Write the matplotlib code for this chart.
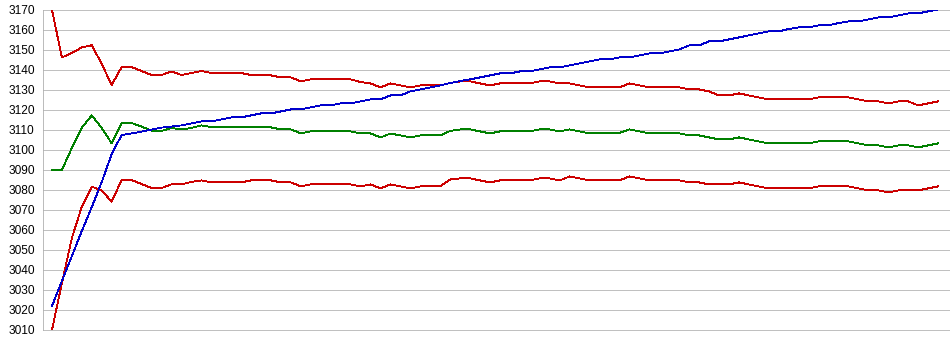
import numpy as np
import matplotlib
matplotlib.use("Agg")
import matplotlib.pyplot as plt

# ---- data ----
upper_red = [3170, 3146.3, 3148.5, 3151.3, 3152.4, 3143.0, 3132.5, 3141.5, 3141.5, 3139.5,
             3137.5, 3137.5, 3139.3, 3137.5, 3138.5, 3139.5, 3138.5, 3138.5, 3138.5, 3138.5,
             3137.5, 3137.3, 3137.3, 3136.3, 3136.3, 3134.3, 3135.3, 3135.3, 3135.3, 3135.3,
             3135.3, 3134.0, 3133.3, 3131.3, 3133.3, 3132.3, 3131.3, 3132.3, 3132.3, 3132.3,
             3133.5, 3134.3, 3134.3, 3133.3, 3132.3, 3133.3, 3133.3, 3133.3, 3133.3, 3134.3,
             3134.3, 3133.3, 3133.3, 3132.3, 3131.3, 3131.3, 3131.3, 3131.3, 3133.3, 3132.3,
             3131.3, 3131.3, 3131.3, 3131.3, 3130.3, 3130.3, 3129.3, 3127.3, 3127.3, 3128.3,
             3127.3, 3126.3, 3125.3, 3125.3, 3125.3, 3125.3, 3125.3, 3126.3, 3126.3, 3126.3,
             3126.3, 3125.3, 3124.3, 3124.3, 3123.3, 3124.3, 3124.3, 3122.3, 3123.3, 3124.3]

mean_green = [3090, 3090, 3101, 3111.2, 3117.3, 3111.0, 3103.3, 3113.5, 3113.5, 3111.7,
              3109.7, 3109.5, 3111.0, 3110.3, 3111.0, 3112.3, 3111.5, 3111.5, 3111.5, 3111.5,
              3111.3, 3111.3, 3111.3, 3110.3, 3110.3, 3108.3, 3109.3, 3109.3, 3109.3, 3109.3,
              3109.3, 3108.3, 3108.3, 3106.3, 3108.2, 3107.3, 3106.3, 3107.3, 3107.3, 3107.3,
              3109.5, 3110.3, 3110.3, 3109.3, 3108.3, 3109.3, 3109.3, 3109.3, 3109.3, 3110.3,
              3110.3, 3109.3, 3110.3, 3109.3, 3108.3, 3108.3, 3108.3, 3108.5, 3110.3, 3109.3,
              3108.3, 3108.3, 3108.3, 3108.3, 3107.3, 3107.3, 3106.3, 3105.3, 3105.3, 3106.3,
              3105.3, 3104.3, 3103.3, 3103.3, 3103.3, 3103.3, 3103.3, 3104.3, 3104.3, 3104.3,
              3104.3, 3103.3, 3102.3, 3102.3, 3101.3, 3102.3, 3102.3, 3101.3, 3102.3, 3103.3]

lower_red = [3010, 3033.5, 3056, 3071.7, 3081.7, 3079.7, 3074.2, 3085, 3085, 3083,
             3081, 3081, 3082.8, 3082.8, 3084, 3084.8, 3083.8, 3083.8, 3083.8, 3083.8,
             3084.8, 3084.8, 3084.8, 3083.8, 3083.8, 3081.8, 3082.8, 3082.8, 3082.8, 3082.8,
             3082.8, 3081.8, 3082.8, 3080.8, 3082.8, 3081.8, 3080.8, 3081.8, 3081.8, 3081.8,
             3085.3, 3085.8, 3085.8, 3084.8, 3083.8, 3084.8, 3084.8, 3084.8, 3084.8, 3085.8,
             3085.8, 3084.8, 3086.8, 3085.8, 3084.8, 3084.8, 3084.8, 3084.8, 3086.8, 3085.8,
             3084.8, 3084.8, 3084.8, 3084.8, 3083.8, 3083.8, 3082.8, 3082.8, 3082.8, 3083.8,
             3082.8, 3081.8, 3080.8, 3080.8, 3080.8, 3080.8, 3080.8, 3081.8, 3081.8, 3081.8,
             3081.8, 3080.8, 3079.8, 3079.8, 3078.8, 3079.8, 3079.8, 3079.8, 3080.8, 3081.8]

blue = [3022, 3034.5, 3047, 3059.5, 3071.5, 3084, 3098, 3107.5, 3108.3, 3109.2,
        3110.2, 3111.2, 3111.7, 3112.3, 3113.3, 3114.3, 3114.3, 3115.3, 3116.3, 3116.3,
        3117.3, 3118.3, 3118.3, 3119.3, 3120.3, 3120.3, 3121.3, 3122.3, 3122.3, 3123.3,
        3123.3, 3124.3, 3125.3, 3125.3, 3127.3, 3127.3, 3129.3, 3130.3, 3131.3, 3132.3,
        3133.5, 3134.5, 3135.3, 3136.3, 3137.3, 3138.3, 3138.3, 3139.3, 3139.3, 3140.3,
        3141.3, 3141.3, 3142.3, 3143.3, 3144.3, 3145.3, 3145.3, 3146.3, 3146.3, 3147.3,
        3148.3, 3148.3, 3149.3, 3150.3, 3152.3, 3152.3, 3154.3, 3154.3, 3155.3, 3156.3,
        3157.3, 3158.3, 3159.3, 3159.3, 3160.5, 3161.3, 3161.3, 3162.3, 3162.3, 3163.5,
        3164.3, 3164.3, 3165.3, 3166.3, 3166.3, 3167.3, 3168.3, 3168.3, 3169.3, 3170.3]

y_ticks = [3010, 3020, 3030, 3040, 3050, 3060, 3070, 3080, 3090, 3100,
           3110, 3120, 3130, 3140, 3150, 3160, 3170]

# ---- figure ----
W, H = 950, 355
fig = plt.figure(figsize=(W / 100, H / 100), dpi=100)
ax = fig.add_axes([43 / W, (H - 330) / H, (949 - 43) / W, 320 / H])

x = np.arange(len(blue))
lw = 0.6
ax.plot(x, upper_red, color="#cc0000", lw=lw, antialiased=False, zorder=3)
ax.plot(x, lower_red, color="#cc0000", lw=lw, antialiased=False, zorder=3)
ax.plot(x, mean_green, color="#008000", lw=lw, antialiased=False, zorder=3)
ax.plot(x, blue, color="#0000cc", lw=lw, antialiased=False, zorder=4)

ax.set_ylim(min(y_ticks), max(y_ticks))
ax.set_xlim(-0.9, 90.1)
ax.set_yticks(y_ticks)
ax.set_yticklabels([str(t) for t in y_ticks], family=["Liberation Sans", "DejaVu Sans"],
                   fontsize=8.6, color="#000000")
ax.set_xticks([])
ax.tick_params(axis="y", length=0, pad=6)
ax.grid(axis="y", color="#c0c0c0", lw=0.6, antialiased=False)
for ln in ax.get_ygridlines():
    ln.set_clip_on(False)
ax.set_axisbelow(True)
for s in ["top", "right", "bottom"]:
    ax.spines[s].set_visible(False)
ax.spines["left"].set_color("#b0b0b0")
ax.spines["left"].set_linewidth(0.6)

fig.savefig("out.png", dpi=100)
